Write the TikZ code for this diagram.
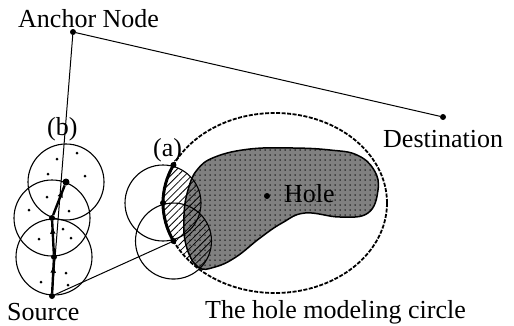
\documentclass[tikz,border=0pt]{standalone}
\usepackage{fontspec}
\setmainfont{Liberation Serif}
\usetikzlibrary{arrows.meta,decorations.markings,patterns.meta,positioning}

\begin{document}
\begin{tikzpicture}[x=1pt, y=1pt,
  txt/.style={font=\fontsize{26}{28}\selectfont, inner sep=0pt, anchor=base west},
  spot/.style={circle, fill=black, inner sep=0pt, minimum size=6pt},
  thinline/.style={line width=1pt},
  ring/.style={line width=1.1pt},
  walk/.style={line width=2.4pt, postaction={decorate},
    decoration={markings, mark=at position 0.8 with {\arrow{Triangle[length=6pt,width=5pt]}}}}
]
\useasboundingbox (0,0) rectangle (514,325);
\coordinate (hc) at (275,122);

% the hole
\path[fill=black!50, postaction={pattern={Dots[distance=5pt,radius=0.75pt]}, pattern color=black},
      draw, line width=1.5pt]
  plot[smooth cycle, tension=0.7] coordinates {(215,168) (250,176) (293,177) (330,175)
    (357,170) (374,155) (378,135) (368,112) (340,108) (305,112) (282,102) (260,87)
    (236,68) (215,58) (198,58) (186,80) (184,110) (188,135) (197,155)};

% points on the modeling circle
\path (hc) ++(155:112pt and 90pt) node[spot] (a1) {};
\path (hc) ++(180:112pt and 90pt) node[spot] (a2) {};
\path (hc) ++(205:112pt and 90pt) node[spot] (a3) {};

% hatched part
\begin{scope}
  \clip (hc) ellipse[x radius=112pt, y radius=90pt];
  \fill[pattern={Lines[angle=45,distance=5pt,line width=0.8pt]}]
    (a2.center) circle[radius=38pt] (a3.center) circle[radius=38pt];
\end{scope}

\node[spot] (src) at (52,29) {};
\node[spot] (b1) at (54,68) {};
\node[spot] (b2) at (52,107) {};
\node[spot, minimum size=7pt] (b3) at (66,143) {};
\node[spot] (anc) at (73,293) {};
\node[spot] (dst) at (443,208) {};
\node[spot] (hole) at (267,129) {};

\foreach \c in {b1,b2,b3,a2,a3}
  \draw[ring] (\c.center) circle[radius=38pt];

\draw[line width=1.8pt, dash pattern=on 4pt off 1.5pt] (hc) ellipse[x radius=112pt, y radius=90pt];
\draw[line width=3pt] (a1.center) arc[start angle=155, end angle=205, x radius=112pt, y radius=90pt];

% neighbour nodes
\foreach \p in {(77,172),(57,166),(48,151),(85,149),(47,128),(29,115),(69,114),
                (63,96),(39,86),(71,87),(66,52),(41,43),(68,40)}
  \fill \p circle[radius=1.5pt];

\draw[thinline] (anc) -- (dst);
\draw[thinline] (anc) -- (src);
\draw[thinline] (src) -- (a3);
\draw[walk] (src) -- (b1);
\draw[walk] (b1) -- (b2);
\draw[walk] (b2) -- (b3);

\node[txt] (anctxt) at (18,298) {Anchor Node};
\node[txt] (dsttxt) at (383,178) {Destination};
\node[txt] (srctxt) at (7,5) {Source};
\node[txt] (holetxt) at (284,123) {Hole};
\node[txt] (btxt) at (47,190) {(b)};
\node[txt] (atxt) at (153,169) {(a)};
\node[txt] (hctxt) at (205,7) {The hole modeling circle};
\end{tikzpicture}
\end{document}
